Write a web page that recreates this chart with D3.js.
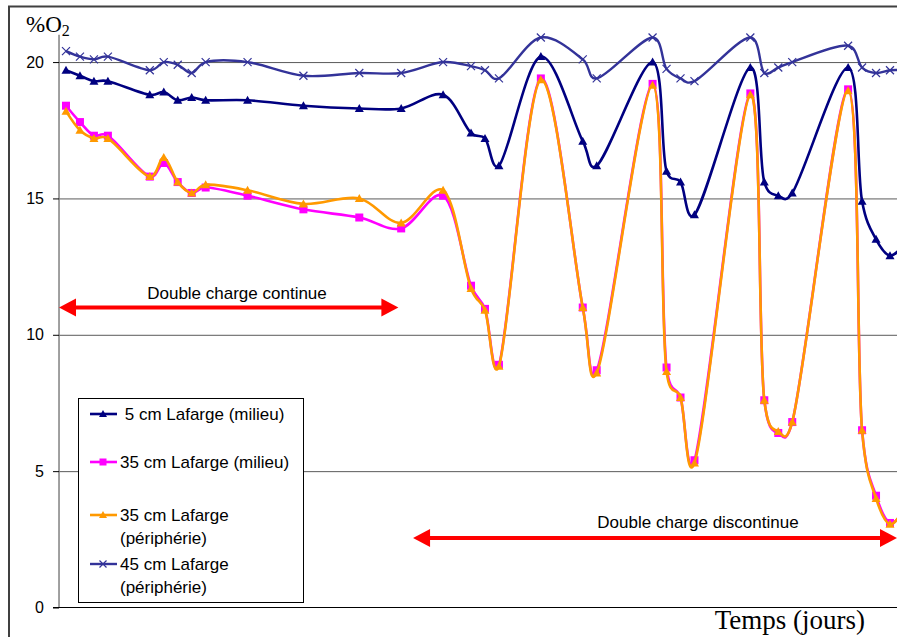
<!DOCTYPE html>
<html lang="fr">
<head>
    <meta charset="UTF-8">
    <title>%O2 - Temps (jours)</title>
    <script src="https://d3js.org/d3.v7.min.js"></script>
    <style>
        body { margin: 0; background: white; }
        text { font-family: "Liberation Sans", Arial, sans-serif; fill: #000; }
        .serif { font-family: "Liberation Serif", "Times New Roman", serif; }
        .grids .domain { stroke: none; }
        .grids line { stroke: #5a5a5a; }
    </style>
</head>
<body>
    <svg id="svg1" height="637" width="897"></svg>

    <script>
        // data -----------------------------------------------------------
        const days = [0, 1, 2, 3, 6, 7, 8, 9, 10, 13, 17, 21, 24, 27, 29, 30, 31, 34, 37, 38,
                      42, 43, 44, 45, 49, 50, 51, 52, 56, 57, 58, 59, 60];

        const milieu5 = [19.7, 19.5, 19.3, 19.3, 18.8, 18.9, 18.6, 18.7, 18.6, 18.6, 18.4, 18.3, 18.3, 18.8,
                         17.4, 17.2, 16.2, 20.2, 17.1, 16.2, 20.0, 16.0, 15.6, 14.4, 19.8, 15.6, 15.1, 15.2,
                         19.8, 14.9, 13.5, 12.9, 13.3];
        const milieu35 = [18.4, 17.8, 17.3, 17.3, 15.8, 16.3, 15.6, 15.2, 15.4, 15.1, 14.6, 14.3, 13.9, 15.1,
                          11.8, 10.95, 8.9, 19.4, 11.0, 8.7, 19.2, 8.8, 7.7, 5.4, 18.85, 7.6, 6.4, 6.8,
                          19.0, 6.5, 4.1, 3.1, 3.5];
        const peri35 = [18.2, 17.5, 17.2, 17.2, 15.8, 16.5, 15.6, 15.2, 15.5, 15.3, 14.8, 15.0, 14.1, 15.3,
                        11.7, 10.9, 8.85, 19.35, 11.0, 8.6, 19.15, 8.65, 7.7, 5.3, 18.8, 7.6, 6.45, 6.8,
                        18.95, 6.5, 4.0, 3.05, 3.6];
        const peri45 = [20.4, 20.2, 20.1, 20.2, 19.7, 20.0, 19.9, 19.6, 20.0, 20.0, 19.5, 19.6, 19.6, 20.0,
                        19.85, 19.7, 19.4, 20.9, 20.1, 19.4, 20.9, 19.75, 19.4, 19.3, 20.9, 19.6, 19.8, 20.0,
                        20.6, 19.8, 19.6, 19.7, 19.7];

        const seriesNames = ["5 cm Lafarge (milieu)", "35 cm Lafarge (milieu)",
                             "35 cm Lafarge (périphérie)", "45 cm Lafarge (périphérie)"];
        const legendLines = [[" 5 cm Lafarge (milieu)"], ["35 cm Lafarge (milieu)"],
                             ["35 cm Lafarge", "(périphérie)"], ["45 cm Lafarge", "(périphérie)"]];
        const yTicks = [0, 5, 10, 15, 20];

        // annotation arrows: [start day, end day, %O2 level, label]
        const phases = [
            { from: -0.5, to: 23.8, level: 11.0, label: "Double charge continue" },
            { from: 24.85, to: 59.5, level: 2.55, label: "Double charge discontinue" }
        ];

        // svg configuration ------------------------------------------------
        const svg1 = d3.select("svg#svg1");

        const xScale = d3.scaleLinear().domain([0, 59]).range([66, 890]);
        const yScale = d3.scaleLinear().domain([0, 21]).range([607.5, 34.8]);
        const x0 = xScale(-0.5);

        const styles = [
            { color: "#000080", marker: "triangle", width: 2.6 },
            { color: "#ff00ff", marker: "square", width: 2.6 },
            { color: "#ff9900", marker: "triangle", width: 2.6 },
            { color: "#333399", marker: "cross", width: 2.4 }
        ];

        const series = [milieu5, milieu35, peri35, peri45].map((vals, i) => ({
            name: seriesNames[i],
            style: styles[i],
            values: vals.map((v, j) => ({ day: days[j], o2: v }))
        }));

        // outer frame
        svg1.append("rect")
            .attr("x", 9).attr("y", 6.5)
            .attr("width", 1000).attr("height", 700)
            .attr("fill", "white")
            .attr("stroke", "#404040")
            .attr("stroke-width", 2);

        // grid lines + y axis ----------------------------------------------
        svg1.append("g")
            .attr("class", "grids")
            .attr("transform", `translate(${x0},0)`)
            .call(d3.axisLeft(yScale).tickValues(yTicks.filter(t => t > 0))
                .tickSize(-(897 - x0)).tickSizeOuter(0).tickFormat(""));

        svg1.append("line")
            .attr("x1", x0).attr("x2", x0)
            .attr("y1", yScale(21)).attr("y2", yScale(0))
            .attr("stroke", "#808080").attr("stroke-width", 1.5);

        const yAxis = svg1.append("g")
            .attr("transform", `translate(${x0},0)`)
            .call(d3.axisLeft(yScale).tickValues(yTicks).tickSize(6).tickPadding(9));
        yAxis.select(".domain").remove();
        yAxis.selectAll(".tick line").attr("stroke", "#000");
        yAxis.selectAll("text")
            .style("font-family", '"Liberation Sans", Arial, sans-serif')
            .style("font-size", "16px");

        // x axis line at 0
        svg1.append("line")
            .attr("x1", x0 - 6).attr("x2", 897)
            .attr("y1", yScale(0)).attr("y2", yScale(0))
            .attr("stroke", "#000").attr("stroke-width", 1.2);

        // axis titles
        const yTitle = svg1.append("text")
            .attr("class", "serif")
            .attr("x", 26).attr("y", 32)
            .style("font-size", "23px");
        yTitle.append("tspan").text("%O");
        yTitle.append("tspan").attr("dy", 4).style("font-size", "16px").text("2");

        svg1.append("text")
            .attr("class", "serif")
            .attr("x", 865).attr("y", 629)
            .attr("text-anchor", "end")
            .style("font-size", "27px")
            .text("Temps (jours)");

        // markers ------------------------------------------------------------
        function drawMarker(g, type, color, size) {
            const h = size / 2;
            if (type === "triangle") {
                g.append("path")
                    .attr("d", `M0,${-h - 0.5}L${h + 0.5},${h - 0.5}L${-h - 0.5},${h - 0.5}Z`)
                    .attr("fill", color);
            } else if (type === "square") {
                g.append("rect")
                    .attr("x", -h).attr("y", -h)
                    .attr("width", size).attr("height", size)
                    .attr("fill", color);
            } else {
                g.append("path")
                    .attr("d", `M${-h},${-h}L${h},${h}M${-h},${h}L${h},${-h}`)
                    .attr("stroke", color).attr("stroke-width", 1.2)
                    .attr("fill", "none");
            }
        }

        // series --------------------------------------------------------------
        const lineGen = d3.line()
            .curve(d3.curveCatmullRom.alpha(0.2))
            .x(d => xScale(d.day))
            .y(d => yScale(d.o2));

        const plot = svg1.append("g").attr("id", "chart");

        series.forEach(s => {
            const g = plot.append("g").attr("class", "series");
            g.append("path")
                .attr("d", lineGen(s.values))
                .attr("fill", "none")
                .attr("stroke", s.style.color)
                .attr("stroke-width", s.style.width)
                .attr("stroke-linejoin", "round");

            g.selectAll("g.pt")
                .data(s.values)
                .join("g")
                .attr("class", "pt")
                .attr("transform", d => `translate(${xScale(d.day)},${yScale(d.o2)})`)
                .each(function () {
                    drawMarker(d3.select(this), s.style.marker, s.style.color, 8);
                });
        });

        // phase arrows ------------------------------------------------------
        phases.forEach(p => {
            const xa = p.from < 0 ? x0 : xScale(p.from);
            const xb = xScale(p.to);
            const y = yScale(p.level);
            const head = 17, hw = 9;
            svg1.append("line")
                .attr("x1", xa + head - 2).attr("x2", xb - head + 2)
                .attr("y1", y).attr("y2", y)
                .attr("stroke", "#ff0000").attr("stroke-width", 4);
            svg1.append("path")
                .attr("d", `M${xa},${y}L${xa + head},${y - hw}L${xa + head},${y + hw}Z`)
                .attr("fill", "#ff0000");
            svg1.append("path")
                .attr("d", `M${xb},${y}L${xb - head},${y - hw}L${xb - head},${y + hw}Z`)
                .attr("fill", "#ff0000");
        });

        svg1.append("text")
            .attr("x", 237).attr("y", yScale(phases[0].level) - 9)
            .attr("text-anchor", "middle")
            .style("font-size", "17px")
            .text(phases[0].label);
        svg1.append("text")
            .attr("x", 698).attr("y", yScale(phases[1].level) - 10)
            .attr("text-anchor", "middle")
            .style("font-size", "17px")
            .text(phases[1].label);

        // legend ----------------------------------------------------------------
        const legend = svg1.append("g").attr("id", "legend");
        legend.append("rect")
            .attr("x", 78.5).attr("y", 398.5)
            .attr("width", 225).attr("height", 204)
            .attr("fill", "white")
            .attr("stroke", "#000").attr("stroke-width", 1);

        const rowY = [414, 462, 515, 564];
        series.forEach((s, i) => {
            const row = legend.append("g").attr("transform", `translate(0,${rowY[i]})`);
            row.append("line")
                .attr("x1", 90).attr("x2", 117)
                .attr("stroke", s.style.color).attr("stroke-width", s.style.width);
            drawMarker(row.append("g").attr("transform", "translate(103,0)"),
                s.style.marker, s.style.color, 7);
            legendLines[i].forEach((txt, k) => {
                row.append("text")
                    .attr("x", 120).attr("y", 6 + k * 23)
                    .style("font-size", "17px")
                    .style("white-space", "pre")
                    .text(txt);
            });
        });
    </script>
</body>
</html>
